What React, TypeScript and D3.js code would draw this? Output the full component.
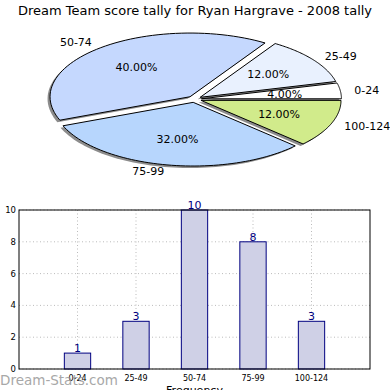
import React, { useEffect, useRef } from 'react';
import * as d3 from 'd3';

const title = 'Dream Team score tally for Ryan Hargrave - 2008 tally';
const categories = ['0-24', '25-49', '50-74', '75-99', '100-124'];
const counts = [1, 3, 10, 8, 3];
const sliceColors = ['#ffffff', '#e9f1fe', '#c5d8fe', '#b7d6fd', '#d1eb8b'];
const yTicks = [0, 2, 4, 6, 8, 10];

const FONT = '"DejaVu Sans", sans-serif';

const App: React.FC = () => {
  const ref = useRef<SVGSVGElement>(null);

  useEffect(() => {
    const svg = d3.select(ref.current);
    svg.selectAll('*').remove();

    svg.append('text')
      .attr('x', 195).attr('y', 15)
      .attr('text-anchor', 'middle')
      .attr('font-family', FONT).attr('font-size', 13)
      .text(title);

    // pie: squashed circle, every slice pushed out a little, with a drop shadow
    const cx = 194.5, cy = 99.2, rx = 140, ry = 63.7, explode = 0.05;
    const total = d3.sum(counts);
    // d3 angles reused as counter-clockwise angles from 3 o'clock
    const arcs = d3.pie<number>().sort(null).value(d => d)(counts);

    const slicePath = (a0: number, a1: number, ox: number, oy: number) => {
      const steps = 60;
      const pts: [number, number][] = [[ox, oy]];
      for (let i = 0; i <= steps; i++) {
        const t = a0 + (a1 - a0) * (i / steps);
        pts.push([ox + Math.cos(t) * rx, oy - Math.sin(t) * ry]);
      }
      return d3.line()(pts) + 'Z';
    };

    const slices = arcs.map((d, i) => {
      const mid = (d.startAngle + d.endAngle) / 2;
      return {
        i, start: d.startAngle, end: d.endAngle, mid,
        ox: cx + Math.cos(mid) * explode * rx,
        oy: cy - Math.sin(mid) * explode * ry,
      };
    });

    const pieG = svg.append('g');
    slices.forEach(s => {
      pieG.append('path')
        .attr('d', slicePath(s.start, s.end, s.ox - 2.5, s.oy + 2))
        .attr('fill', '#000').attr('opacity', 0.45);
    });
    slices.forEach(s => {
      pieG.append('path')
        .attr('d', slicePath(s.start, s.end, s.ox, s.oy))
        .attr('fill', sliceColors[s.i])
        .attr('stroke', '#000').attr('stroke-width', 1)
        .attr('stroke-linejoin', 'round');
    });
    slices.forEach(s => {
      const c = Math.cos(s.mid), sn = Math.sin(s.mid);
      pieG.append('text')
        .attr('x', cx + c * (1.1 + explode) * rx)
        .attr('y', cy - sn * (1.1 + explode) * ry)
        .attr('text-anchor', c < 0 ? 'end' : 'start')
        .attr('dominant-baseline', 'central')
        .attr('font-family', FONT).attr('font-size', 11)
        .text(categories[s.i]);
      pieG.append('text')
        .attr('x', cx + c * (0.6 + explode) * rx)
        .attr('y', cy - sn * (0.6 + explode) * ry)
        .attr('text-anchor', 'middle')
        .attr('dominant-baseline', 'central')
        .attr('font-family', FONT).attr('font-size', 11)
        .text(((counts[s.i] / total) * 100).toFixed(2) + '%');
    });

    // bar chart
    const left = 19, right = 370, top = 210, bottom = 369;
    const x = d3.scaleLinear().domain([-1, 5]).range([left, right]);
    const y = d3.scaleLinear().domain([0, 10]).range([bottom, top]);
    const barW = 0.45;
    const g = svg.append('g');

    categories.forEach((_, i) => {
      g.append('line')
        .attr('x1', x(i)).attr('x2', x(i)).attr('y1', top).attr('y2', bottom)
        .attr('stroke', '#bbb').attr('stroke-dasharray', '1,2.5');
    });
    yTicks.forEach(t => {
      g.append('line')
        .attr('x1', left).attr('x2', right).attr('y1', y(t)).attr('y2', y(t))
        .attr('stroke', '#bbb').attr('stroke-dasharray', '1,2.5');
      g.append('text')
        .attr('x', left - 3).attr('y', y(t))
        .attr('text-anchor', 'end').attr('dominant-baseline', 'central')
        .attr('font-family', FONT).attr('font-size', 8.5)
        .text(t);
    });

    counts.forEach((v, i) => {
      g.append('rect')
        .attr('x', x(i - barW / 2)).attr('width', x(barW) - x(0))
        .attr('y', y(v)).attr('height', y(0) - y(v))
        .attr('fill', '#cfd0e6').attr('stroke', '#000080').attr('stroke-width', 1);
      g.append('text')
        .attr('x', x(i)).attr('y', y(v) - 1)
        .attr('text-anchor', 'middle')
        .attr('font-family', FONT).attr('font-size', 11)
        .attr('fill', '#000080')
        .text(v);
    });

    g.append('rect')
      .attr('x', left).attr('y', top).attr('width', right - left).attr('height', bottom - top)
      .attr('fill', 'none').attr('stroke', '#000').attr('stroke-width', 1);

    g.append('text')
      .attr('x', (left + right) / 2).attr('y', 394)
      .attr('text-anchor', 'middle')
      .attr('font-family', FONT).attr('font-size', 11)
      .text('Frequency');

    g.append('text')
      .attr('transform', `translate(-2, ${(top + bottom) / 2}) rotate(-90)`)
      .attr('text-anchor', 'middle')
      .attr('font-family', FONT).attr('font-size', 11)
      .text('Total Times Hit');

    svg.append('text')
      .attr('x', 0).attr('y', 385)
      .attr('font-family', FONT).attr('font-size', 13.5)
      .attr('fill', '#999').attr('opacity', 0.85)
      .text('Dream-Stats.com');

    // x tick labels drawn last so they sit over the watermark, as in the source
    categories.forEach((c, i) => {
      g.append('text')
        .attr('x', x(i)).attr('y', bottom + 12)
        .attr('text-anchor', 'middle')
        .attr('font-family', FONT).attr('font-size', 8)
        .text(c);
    });
  }, []);

  return (
    <svg ref={ref} width={390} height={390}
      style={{ position: 'absolute', left: 0, top: 0, background: '#fff' }} />
  );
};

export default App;
